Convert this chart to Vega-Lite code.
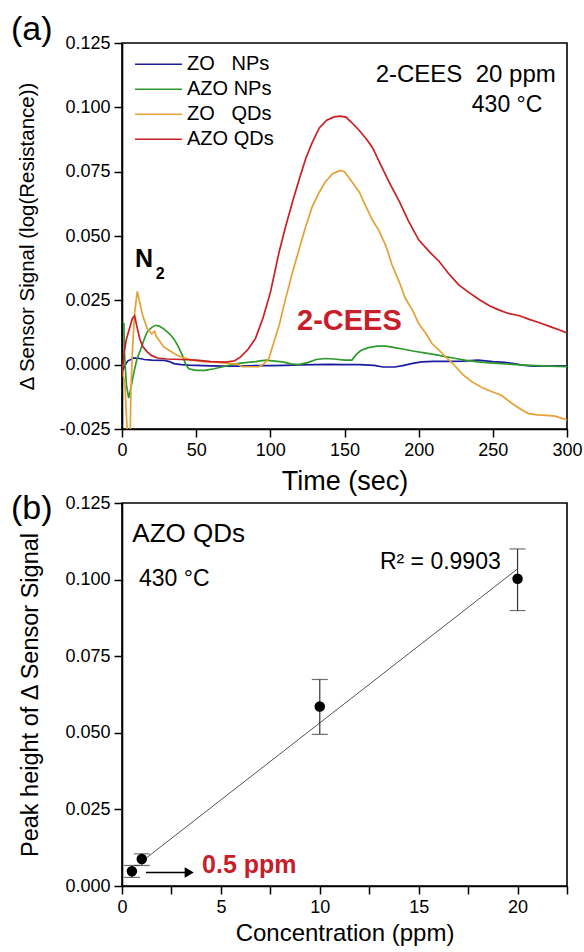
{
  "$schema": "https://vega.github.io/schema/vega-lite/v6.json",
  "padding": {"left": 10, "top": 12, "right": 2, "bottom": 0},
  "spacing": -4,
  "config": {
    "font": "Liberation Sans",
    "view": {"stroke": "black", "strokeWidth": 1.6},
    "axis": {"domainColor": "black", "domainWidth": 1.6, "tickColor": "black", "tickWidth": 1.5, "tickSize": 8, "labelFontSize": 18, "labelColor": "black", "titleColor": "black", "titleFontWeight": "normal", "grid": false, "labelFont": "Liberation Sans", "titleFont": "Liberation Sans", "labelPadding": 4, "labelOverlap": false, "labelFlush": false},
    "title": {"font": "Liberation Sans", "fontWeight": "normal", "color": "black", "fontSize": 34, "anchor": "start", "frame": "group"}
  },
  "datasets": {
    "curves": [
      {"s":"ZO NPs","t":0,"v":-0.003},{"s":"ZO NPs","t":1.5,"v":-0.001},{"s":"ZO NPs","t":2.7,"v":0.0004},{"s":"ZO NPs","t":4,"v":0.0015},{"s":"ZO NPs","t":6,"v":0.002},{"s":"ZO NPs","t":8,"v":0.0026},{"s":"ZO NPs","t":12,"v":0.0024},{"s":"ZO NPs","t":15,"v":0.002},{"s":"ZO NPs","t":20,"v":0.0018},{"s":"ZO NPs","t":28,"v":0.0017},{"s":"ZO NPs","t":32,"v":0.0012},{"s":"ZO NPs","t":35,"v":0.0004},{"s":"ZO NPs","t":40,"v":0.0},{"s":"ZO NPs","t":45,"v":-0.0002},{"s":"ZO NPs","t":50,"v":-0.0003},{"s":"ZO NPs","t":60,"v":-0.0005},{"s":"ZO NPs","t":70,"v":-0.0006},{"s":"ZO NPs","t":80,"v":-0.0006},{"s":"ZO NPs","t":90,"v":-0.0004},{"s":"ZO NPs","t":100,"v":-0.0004},{"s":"ZO NPs","t":110,"v":-0.0003},{"s":"ZO NPs","t":120,"v":-0.0001},{"s":"ZO NPs","t":130,"v":0.0},{"s":"ZO NPs","t":140,"v":0.0001},{"s":"ZO NPs","t":150,"v":0.0},{"s":"ZO NPs","t":160,"v":0.0},{"s":"ZO NPs","t":170,"v":-0.0003},{"s":"ZO NPs","t":176,"v":-0.0009},{"s":"ZO NPs","t":184,"v":-0.0009},{"s":"ZO NPs","t":190,"v":-0.0003},{"s":"ZO NPs","t":196,"v":0.0005},{"s":"ZO NPs","t":202,"v":0.0011},{"s":"ZO NPs","t":210,"v":0.0013},{"s":"ZO NPs","t":220,"v":0.0013},{"s":"ZO NPs","t":230,"v":0.0014},{"s":"ZO NPs","t":240,"v":0.0018},{"s":"ZO NPs","t":250,"v":0.0012},{"s":"ZO NPs","t":258,"v":0.0009},{"s":"ZO NPs","t":263,"v":0.0005},{"s":"ZO NPs","t":270,"v":-0.0002},{"s":"ZO NPs","t":277,"v":-0.0006},{"s":"ZO NPs","t":285,"v":-0.0006},{"s":"ZO NPs","t":292,"v":-0.0005},{"s":"ZO NPs","t":300,"v":-0.0005},

      {"s":"AZO NPs","t":0.3,"v":0.016},{"s":"AZO NPs","t":1.3,"v":0.016},{"s":"AZO NPs","t":1.6,"v":0.005},{"s":"AZO NPs","t":3,"v":-0.008},{"s":"AZO NPs","t":4.5,"v":-0.013},{"s":"AZO NPs","t":6,"v":-0.009},{"s":"AZO NPs","t":8,"v":-0.003},{"s":"AZO NPs","t":10,"v":0.002},{"s":"AZO NPs","t":12.6,"v":0.006},{"s":"AZO NPs","t":15,"v":0.010},{"s":"AZO NPs","t":17,"v":0.0127},{"s":"AZO NPs","t":20,"v":0.0145},{"s":"AZO NPs","t":22.7,"v":0.0153},{"s":"AZO NPs","t":25,"v":0.015},{"s":"AZO NPs","t":28,"v":0.014},{"s":"AZO NPs","t":32,"v":0.012},{"s":"AZO NPs","t":35,"v":0.010},{"s":"AZO NPs","t":38,"v":0.007},{"s":"AZO NPs","t":40.7,"v":0.0036},{"s":"AZO NPs","t":43,"v":0.0},{"s":"AZO NPs","t":45,"v":-0.0016},{"s":"AZO NPs","t":50,"v":-0.0022},{"s":"AZO NPs","t":56,"v":-0.0022},{"s":"AZO NPs","t":62,"v":-0.0016},{"s":"AZO NPs","t":68,"v":-0.0008},{"s":"AZO NPs","t":74,"v":0.0},{"s":"AZO NPs","t":80,"v":0.0006},{"s":"AZO NPs","t":90,"v":0.0012},{"s":"AZO NPs","t":97,"v":0.0018},{"s":"AZO NPs","t":103,"v":0.0014},{"s":"AZO NPs","t":108,"v":0.0011},{"s":"AZO NPs","t":114,"v":0.0003},{"s":"AZO NPs","t":119,"v":0.0},{"s":"AZO NPs","t":125,"v":0.0008},{"s":"AZO NPs","t":131,"v":0.002},{"s":"AZO NPs","t":137,"v":0.0024},{"s":"AZO NPs","t":143,"v":0.0022},{"s":"AZO NPs","t":150,"v":0.0018},{"s":"AZO NPs","t":155,"v":0.0018},{"s":"AZO NPs","t":158,"v":0.004},{"s":"AZO NPs","t":161,"v":0.0055},{"s":"AZO NPs","t":166,"v":0.0066},{"s":"AZO NPs","t":172,"v":0.0072},{"s":"AZO NPs","t":178,"v":0.0072},{"s":"AZO NPs","t":184,"v":0.0066},{"s":"AZO NPs","t":190,"v":0.006},{"s":"AZO NPs","t":196,"v":0.0053},{"s":"AZO NPs","t":205,"v":0.0045},{"s":"AZO NPs","t":212,"v":0.0038},{"s":"AZO NPs","t":218,"v":0.0031},{"s":"AZO NPs","t":225,"v":0.0024},{"s":"AZO NPs","t":232,"v":0.0017},{"s":"AZO NPs","t":240,"v":0.0011},{"s":"AZO NPs","t":250,"v":0.0006},{"s":"AZO NPs","t":263,"v":0.0001},{"s":"AZO NPs","t":275,"v":-0.0003},{"s":"AZO NPs","t":288,"v":-0.0006},{"s":"AZO NPs","t":300,"v":-0.0008},

      {"s":"ZO QDs","t":0,"v":-0.001},{"s":"ZO QDs","t":2,"v":-0.008},{"s":"ZO QDs","t":3,"v":-0.02},{"s":"ZO QDs","t":4,"v":-0.03},{"s":"ZO QDs","t":5.5,"v":-0.03},{"s":"ZO QDs","t":6,"v":-0.01},{"s":"ZO QDs","t":7,"v":0.005},{"s":"ZO QDs","t":8.5,"v":0.02},{"s":"ZO QDs","t":10.3,"v":0.0285},{"s":"ZO QDs","t":12,"v":0.024},{"s":"ZO QDs","t":14,"v":0.019},{"s":"ZO QDs","t":17,"v":0.014},{"s":"ZO QDs","t":20,"v":0.012},{"s":"ZO QDs","t":22,"v":0.013},{"s":"ZO QDs","t":23,"v":0.011},{"s":"ZO QDs","t":25,"v":0.0095},{"s":"ZO QDs","t":28,"v":0.007},{"s":"ZO QDs","t":32,"v":0.0055},{"s":"ZO QDs","t":36,"v":0.004},{"s":"ZO QDs","t":40,"v":0.003},{"s":"ZO QDs","t":48,"v":0.0017},{"s":"ZO QDs","t":55,"v":0.0012},{"s":"ZO QDs","t":62,"v":0.001},{"s":"ZO QDs","t":70,"v":0.0006},{"s":"ZO QDs","t":78,"v":0.0002},{"s":"ZO QDs","t":81,"v":-0.0008},{"s":"ZO QDs","t":92,"v":-0.0008},{"s":"ZO QDs","t":95,"v":0.0},{"s":"ZO QDs","t":99,"v":0.0024},{"s":"ZO QDs","t":102,"v":0.008},{"s":"ZO QDs","t":106,"v":0.0154},{"s":"ZO QDs","t":110,"v":0.025},{"s":"ZO QDs","t":115,"v":0.036},{"s":"ZO QDs","t":120,"v":0.046},{"s":"ZO QDs","t":124,"v":0.054},{"s":"ZO QDs","t":128,"v":0.061},{"s":"ZO QDs","t":133,"v":0.067},{"s":"ZO QDs","t":137,"v":0.071},{"s":"ZO QDs","t":142,"v":0.0742},{"s":"ZO QDs","t":147,"v":0.0755},{"s":"ZO QDs","t":150,"v":0.075},{"s":"ZO QDs","t":155,"v":0.0711},{"s":"ZO QDs","t":160,"v":0.067},{"s":"ZO QDs","t":164,"v":0.062},{"s":"ZO QDs","t":169,"v":0.056},{"s":"ZO QDs","t":173,"v":0.0524},{"s":"ZO QDs","t":178,"v":0.046},{"s":"ZO QDs","t":182,"v":0.0388},{"s":"ZO QDs","t":187,"v":0.032},{"s":"ZO QDs","t":191,"v":0.0258},{"s":"ZO QDs","t":196,"v":0.021},{"s":"ZO QDs","t":200,"v":0.016},{"s":"ZO QDs","t":205,"v":0.012},{"s":"ZO QDs","t":209,"v":0.0082},{"s":"ZO QDs","t":214,"v":0.0055},{"s":"ZO QDs","t":218,"v":0.0031},{"s":"ZO QDs","t":222,"v":0.001},{"s":"ZO QDs","t":225,"v":-0.0008},{"s":"ZO QDs","t":230,"v":-0.004},{"s":"ZO QDs","t":236,"v":-0.0067},{"s":"ZO QDs","t":243,"v":-0.009},{"s":"ZO QDs","t":250,"v":-0.0106},{"s":"ZO QDs","t":256,"v":-0.012},{"s":"ZO QDs","t":263,"v":-0.0151},{"s":"ZO QDs","t":268,"v":-0.017},{"s":"ZO QDs","t":274,"v":-0.019},{"s":"ZO QDs","t":280,"v":-0.0195},{"s":"ZO QDs","t":286,"v":-0.0197},{"s":"ZO QDs","t":292,"v":-0.020},{"s":"ZO QDs","t":300,"v":-0.0215},

      {"s":"AZO QDs","t":0,"v":-0.004},{"s":"AZO QDs","t":1.5,"v":0.005},{"s":"AZO QDs","t":3,"v":0.010},{"s":"AZO QDs","t":5,"v":0.014},{"s":"AZO QDs","t":7,"v":0.018},{"s":"AZO QDs","t":8.5,"v":0.019},{"s":"AZO QDs","t":10,"v":0.015},{"s":"AZO QDs","t":12,"v":0.010},{"s":"AZO QDs","t":14,"v":0.007},{"s":"AZO QDs","t":17,"v":0.005},{"s":"AZO QDs","t":20,"v":0.0035},{"s":"AZO QDs","t":24,"v":0.0026},{"s":"AZO QDs","t":30,"v":0.0022},{"s":"AZO QDs","t":40,"v":0.002},{"s":"AZO QDs","t":50,"v":0.0018},{"s":"AZO QDs","t":60,"v":0.0012},{"s":"AZO QDs","t":70,"v":0.001},{"s":"AZO QDs","t":76,"v":0.0015},{"s":"AZO QDs","t":80,"v":0.003},{"s":"AZO QDs","t":85,"v":0.006},{"s":"AZO QDs","t":90,"v":0.0102},{"s":"AZO QDs","t":95,"v":0.018},{"s":"AZO QDs","t":100,"v":0.028},{"s":"AZO QDs","t":106,"v":0.044},{"s":"AZO QDs","t":110,"v":0.053},{"s":"AZO QDs","t":115,"v":0.0634},{"s":"AZO QDs","t":120,"v":0.073},{"s":"AZO QDs","t":124,"v":0.0803},{"s":"AZO QDs","t":128,"v":0.086},{"s":"AZO QDs","t":133,"v":0.092},{"s":"AZO QDs","t":138,"v":0.095},{"s":"AZO QDs","t":143,"v":0.0963},{"s":"AZO QDs","t":147,"v":0.0966},{"s":"AZO QDs","t":151,"v":0.0962},{"s":"AZO QDs","t":155,"v":0.094},{"s":"AZO QDs","t":160,"v":0.091},{"s":"AZO QDs","t":165,"v":0.0875},{"s":"AZO QDs","t":169,"v":0.0842},{"s":"AZO QDs","t":175,"v":0.077},{"s":"AZO QDs","t":180,"v":0.071},{"s":"AZO QDs","t":187,"v":0.0634},{"s":"AZO QDs","t":193,"v":0.056},{"s":"AZO QDs","t":200,"v":0.0485},{"s":"AZO QDs","t":207,"v":0.044},{"s":"AZO QDs","t":214,"v":0.040},{"s":"AZO QDs","t":220,"v":0.0355},{"s":"AZO QDs","t":227,"v":0.031},{"s":"AZO QDs","t":234,"v":0.028},{"s":"AZO QDs","t":241,"v":0.0252},{"s":"AZO QDs","t":248,"v":0.0228},{"s":"AZO QDs","t":254,"v":0.0213},{"s":"AZO QDs","t":260,"v":0.020},{"s":"AZO QDs","t":268,"v":0.019},{"s":"AZO QDs","t":275,"v":0.0175},{"s":"AZO QDs","t":281,"v":0.0164},{"s":"AZO QDs","t":290,"v":0.0145},{"s":"AZO QDs","t":295,"v":0.0135},{"s":"AZO QDs","t":300,"v":0.0123}
    ],
    "points": [
      {"c":0.5,"p":0.0048,"lo":0.0028,"hi":0.0067},
      {"c":1,"p":0.0088,"lo":0.0067,"hi":0.0105},
      {"c":10,"p":0.0586,"lo":0.0495,"hi":0.0674},
      {"c":20,"p":0.1003,"lo":0.0899,"hi":0.110}
    ],
    "fit": [
      {"c":1.2,"p":0.009},
      {"c":20,"p":0.1035}
    ]
  },
  "vconcat": [
    {
      "width": 445,
      "height": 386,
      "title": {"text": "(a)", "dx": -111, "offset": -13},
      "layer": [
        {
          "data": {"name": "curves"},
          "mark": {"type": "line", "strokeWidth": 1.7, "clip": true},
          "encoding": {
            "x": {"field": "t", "type": "quantitative", "scale": {"domain": [0, 300], "nice": false},
              "axis": {"values": [0, 50, 100, 150, 200, 250, 300], "title": "Time (sec)", "titleFontSize": 27, "titlePadding": 9}},
            "y": {"field": "v", "type": "quantitative", "scale": {"domain": [-0.025, 0.125], "nice": false, "zero": false},
              "axis": {"values": [-0.025, 0, 0.025, 0.05, 0.075, 0.1, 0.125], "labelExpr": "replace(format(datum.value, '.3f'), '\u2212', '-')", "title": "Δ Sensor Signal (log(Resistance))", "titleFontSize": 20.5, "titlePadding": 21}},
            "color": {"field": "s", "type": "nominal",
              "scale": {"domain": ["ZO NPs", "AZO NPs", "ZO QDs", "AZO QDs"], "range": ["#1c1c9e", "#2e9a2e", "#e6a035", "#cc1f24"]},
              "legend": {"title": null, "orient": "none", "legendX": 12, "legendY": 9, "symbolType": "stroke", "symbolSize": 2200, "symbolStrokeWidth": 1.6, "clipHeight": 24.5, "rowPadding": 0, "padding": 0, "labelOffset": 4, "labelFontSize": 20, "labelColor": "black", "labelFont": "Liberation Sans",
                "labelExpr": "indexof(datum.label, 'AZO') == 0 ? datum.label : replace(datum.label, 'ZO ', 'ZO\u00a0\u00a0\u00a0')"}}
          }
        },
        {
          "data": {"values": [{}]},
          "mark": {"type": "text", "text": "2-CEES\u00a0 20 ppm", "fontSize": 24, "align": "right", "baseline": "alphabetic", "color": "black"},
          "encoding": {"x": {"datum": 292.4, "type": "quantitative"}, "y": {"datum": 0.1098, "type": "quantitative"}}
        },
        {
          "data": {"values": [{}]},
          "mark": {"type": "text", "text": "430 °C", "fontSize": 23, "align": "right", "baseline": "alphabetic", "color": "black"},
          "encoding": {"x": {"datum": 283.4, "type": "quantitative"}, "y": {"datum": 0.0982, "type": "quantitative"}}
        },
        {
          "data": {"values": [{}]},
          "mark": {"type": "text", "text": "N", "fontSize": 25, "fontWeight": "bold", "align": "left", "baseline": "alphabetic", "color": "black"},
          "encoding": {"x": {"datum": 8.8, "type": "quantitative"}, "y": {"datum": 0.0379, "type": "quantitative"}}
        },
        {
          "data": {"values": [{}]},
          "mark": {"type": "text", "text": "2", "fontSize": 16, "fontWeight": "bold", "align": "left", "baseline": "alphabetic", "color": "black"},
          "encoding": {"x": {"datum": 22.7, "type": "quantitative"}, "y": {"datum": 0.0332, "type": "quantitative"}}
        },
        {
          "data": {"values": [{}]},
          "mark": {"type": "text", "text": "2-CEES", "fontSize": 29, "fontWeight": "bold", "align": "left", "baseline": "alphabetic", "color": "#c81e2a"},
          "encoding": {"x": {"datum": 118, "type": "quantitative"}, "y": {"datum": 0.0133, "type": "quantitative"}}
        }
      ]
    },
    {
      "width": 445,
      "height": 383,
      "title": {"text": "(b)", "dx": -111, "offset": -32},
      "layer": [
        {
          "data": {"name": "fit"},
          "mark": {"type": "line", "color": "#555555", "strokeWidth": 1},
          "encoding": {
            "x": {"field": "c", "type": "quantitative", "scale": {"domain": [0, 22.5], "nice": false},
              "axis": {"values": [0, 2.5, 5, 7.5, 10, 12.5, 15, 17.5, 20, 22.5], "labelExpr": "datum.value % 5 == 0 ? datum.label : ''", "title": "Concentration (ppm)", "titleFontSize": 24, "titlePadding": 5}},
            "y": {"field": "p", "type": "quantitative", "scale": {"domain": [0, 0.125], "nice": false},
              "axis": {"values": [0, 0.025, 0.05, 0.075, 0.1, 0.125], "format": ".3f", "title": "Peak height of Δ Sensor Signal", "titleFontSize": 23.5, "titlePadding": 22}}
          }
        },
        {
          "data": {"name": "points"},
          "mark": {"type": "rule", "color": "#333333", "strokeWidth": 1.2},
          "encoding": {"x": {"field": "c", "type": "quantitative"}, "y": {"field": "lo", "type": "quantitative"}, "y2": {"field": "hi"}}
        },
        {
          "data": {"name": "points"},
          "mark": {"type": "tick", "orient": "horizontal", "size": 16, "thickness": 1.2, "color": "#333333"},
          "encoding": {"x": {"field": "c", "type": "quantitative"}, "y": {"field": "lo", "type": "quantitative"}}
        },
        {
          "data": {"name": "points"},
          "mark": {"type": "tick", "orient": "horizontal", "size": 16, "thickness": 1.2, "color": "#333333"},
          "encoding": {"x": {"field": "c", "type": "quantitative"}, "y": {"field": "hi", "type": "quantitative"}}
        },
        {
          "data": {"name": "points"},
          "mark": {"type": "point", "shape": "circle", "filled": true, "size": 110, "color": "black", "opacity": 1},
          "encoding": {"x": {"field": "c", "type": "quantitative"}, "y": {"field": "p", "type": "quantitative"}}
        },
        {
          "data": {"values": [{}]},
          "mark": {"type": "rule", "color": "black", "strokeWidth": 1.3},
          "encoding": {"x": {"datum": 1.21, "type": "quantitative"}, "x2": {"datum": 3.3}, "y": {"datum": 0.0044, "type": "quantitative"}}
        },
        {
          "data": {"values": [{}]},
          "mark": {"type": "point", "shape": "triangle-right", "filled": true, "size": 110, "color": "black", "opacity": 1},
          "encoding": {"x": {"datum": 3.4, "type": "quantitative"}, "y": {"datum": 0.0044, "type": "quantitative"}}
        },
        {
          "data": {"values": [{}]},
          "mark": {"type": "text", "text": "AZO QDs", "fontSize": 26, "align": "left", "baseline": "alphabetic", "color": "black"},
          "encoding": {"x": {"datum": 0.52, "type": "quantitative"}, "y": {"datum": 0.1123, "type": "quantitative"}}
        },
        {
          "data": {"values": [{}]},
          "mark": {"type": "text", "text": "430 °C", "fontSize": 23, "align": "left", "baseline": "alphabetic", "color": "black"},
          "encoding": {"x": {"datum": 0.86, "type": "quantitative"}, "y": {"datum": 0.0979, "type": "quantitative"}}
        },
        {
          "data": {"values": [{}]},
          "mark": {"type": "text", "text": "R² = 0.9903", "fontSize": 23, "align": "right", "baseline": "alphabetic", "color": "black"},
          "encoding": {"x": {"datum": 19.15, "type": "quantitative"}, "y": {"datum": 0.1036, "type": "quantitative"}}
        },
        {
          "data": {"values": [{}]},
          "mark": {"type": "text", "text": "0.5 ppm", "fontSize": 25, "fontWeight": "bold", "align": "left", "baseline": "alphabetic", "color": "#c81e2a"},
          "encoding": {"x": {"datum": 4.05, "type": "quantitative"}, "y": {"datum": 0.0041, "type": "quantitative"}}
        }
      ]
    }
  ]
}
